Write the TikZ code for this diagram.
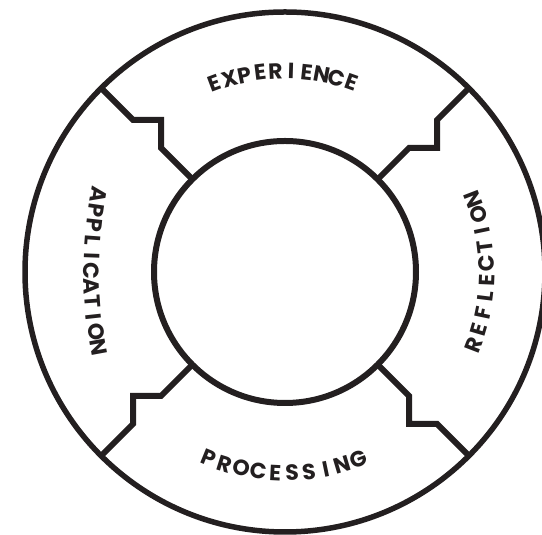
\documentclass[tikz,border=0pt]{standalone}
\usepackage{fontspec}
\newfontfamily\labelfam{Poppins}
\usetikzlibrary{calc}
\definecolor{ink}{RGB}{35,31,32}
\newlength\lw
\newcommand\lbl{\labelfam\bfseries\fontsize{22pt}{22pt}\selectfont}
\tikzset{
  ring/.style={circle, draw=ink, line width=6pt, inner sep=0pt, outer sep=0pt},
  zig/.style={draw=ink, line width=6pt, line join=miter},
  letter/.style={inner sep=0pt, outer sep=0pt, text=ink, font=\lbl}
}
% #1 cx, #2 cy, #3 radius, #4 middle angle, #5 direction (+1 ccw, -1 cw),
% #6 span from first to last letter centre, #7 letters, #8 name prefix
\newcommand\arcword[8]{%
  \gdef\sumw{0}\gdef\nn{0}\gdef\firstw{0pt}\gdef\lastw{0pt}%
  \foreach \ch [count=\i] in {#7}{%
    \settowidth\lw{\lbl\ch}%
    \pgfmathsetmacro\tmpa{\sumw+\lw}\xdef\sumw{\tmpa}%
    \xdef\nn{\i}%
    \ifnum\i=1 \xdef\firstw{\the\lw}\fi
    \xdef\lastw{\the\lw}%
  }%
  \pgfmathsetmacro\trk{((#6)-(\sumw-\firstw/2-\lastw/2))/(\nn-1)}%
  \pgfmathsetmacro\totw{\sumw+(\nn-1)*\trk}%
  \xdef\trk{\trk}\xdef\totw{\totw}%
  \gdef\awpos{0}%
  \foreach \ch [count=\i] in {#7}{%
    \settowidth\lw{\lbl\ch}%
    \pgfmathsetmacro\sposn{\awpos+\lw/2-\totw/2}%
    \pgfmathsetmacro\ang{(#4)+(#5)*(\sposn)/(#3)*180/pi}%
    \pgfmathsetmacro\rot{\ang+(#5)*90}%
    \node[letter, rotate=\rot] (#8-\i) at ($(#1,#2)+(\ang:#3pt)$) {\ch};
    \pgfmathsetmacro\tmpa{\awpos+\lw+\trk}\xdef\awpos{\tmpa}%
  }%
}
\begin{document}
\begin{tikzpicture}[x=1pt,y=1pt]
\useasboundingbox (0,0) rectangle (542,535);
\clip (0,0) rectangle (542,535);
\coordinate (C) at (285,263);
\node[ring, minimum size=520pt, line width=5.5pt] (outer) at (C) {};
\node[ring, minimum size=262pt] (inner) at (C) {};
\foreach \a in {135,45,-45,-135}{
  \begin{scope}[shift={(C)}, rotate=\a-135]
    \draw[zig] (outer.\a) -- (-152,152) -- (-124,152) -- (-124,124) -- (inner.\a);
  \end{scope}
}
\arcword{285}{263}{201}{90.5}{-1}{140}{E,X,P,E,R,I,E,N,C,E}{exp}
\arcword{285}{263}{202}{0}{1}{149}{R,E,F,L,E,C,T,I,O,N}{ref}
\arcword{285}{263}{201}{269.6}{1}{153}{P,R,O,C,E,S,S,I,N,G}{pro}
\arcword{511.5}{264}{420}{180}{1}{153}{A,P,P,L,I,C,A,T,I,O,N}{app}
\end{tikzpicture}
\end{document}
